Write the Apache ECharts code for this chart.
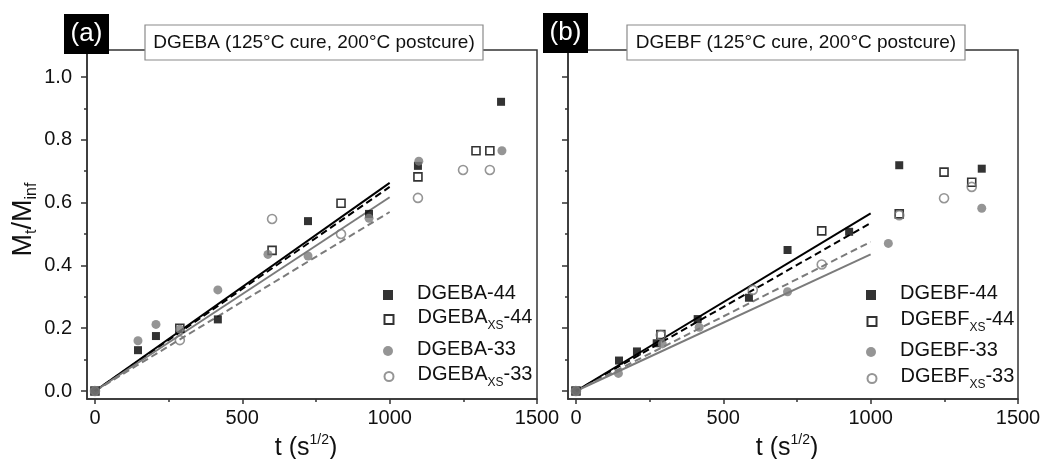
<!DOCTYPE html>
<html><head><meta charset="utf-8">
<script src="https://cdn.jsdelivr.net/npm/echarts@6/dist/echarts.min.js"></script>
<style>html,body{margin:0;padding:0;background:#fff}#c{width:1041px;height:459px}</style>
</head><body><div id="c"></div>
<script>
// ---- tick values ----
const xTicksMajor = [0, 500, 1000, 1500];
const xTicksMinor = [250, 750, 1250];
const yTicksMajor = [0, 0.2, 0.4, 0.6, 0.8, 1.0];
const yTicksMinor = [0.1, 0.3, 0.5, 0.7, 0.9];

// ---- panel (a): DGEBA ----
const titleA = 'DGEBA (125°C cure, 200°C postcure)';
const namesA = ['DGEBA-44', 'DGEBA_XS-44', 'DGEBA-33', 'DGEBA_XS-33'];
const a44   = [[0,0],[146,0.13],[207,0.175],[417,0.228],[723,0.541],[930,0.564],[1096,0.717],[1378,0.921]];
const aXS44 = [[0,0],[288,0.2],[601,0.448],[835,0.598],[1096,0.682],[1293,0.765],[1340,0.765]];
const a33   = [[0,0],[146,0.16],[207,0.212],[288,0.197],[417,0.322],[587,0.435],[723,0.43],[930,0.55],[1099,0.732],[1381,0.765]];
const aXS33 = [[0,0],[288,0.162],[601,0.548],[835,0.5],[1096,0.615],[1249,0.704],[1340,0.704]];
const fitA44   = [[0,0],[1000,0.663]];
const fitAXS44 = [[0,0],[1000,0.65]];
const fitA33   = [[0,0],[1000,0.617]];
const fitAXS33 = [[0,0],[1000,0.57]];

// ---- panel (b): DGEBF ----
const titleB = 'DGEBF (125°C cure, 200°C postcure)';
const namesB = ['DGEBF-44', 'DGEBF_XS-44', 'DGEBF-33', 'DGEBF_XS-33'];
const b44   = [[0,0],[146,0.097],[207,0.126],[274,0.152],[413,0.229],[587,0.297],[718,0.449],[927,0.507],[1097,0.719],[1377,0.708]];
const bXS44 = [[0,0],[288,0.18],[834,0.51],[1097,0.564],[1249,0.697],[1343,0.665]];
const b33   = [[0,0],[144,0.056],[293,0.15],[418,0.203],[718,0.316],[1060,0.47],[1377,0.582]];
const bXS33 = [[0,0],[288,0.178],[600,0.322],[834,0.403],[1097,0.56],[1249,0.614],[1343,0.65]];
const fitB44   = [[0,0],[1000,0.566]];
const fitBXS44 = [[0,0],[1000,0.535]];
const fitB33   = [[0,0],[1000,0.435]];
const fitBXS33 = [[0,0],[1000,0.475]];

const FONT = 'Liberation Sans, Arial, sans-serif';
const AX = '#333';
const GRAY = '#7b7b7b';
const XMIN = -27, XMAX = 1500, YMIN = -0.0255, YMAX = 1.086;

const chart = echarts.init(document.getElementById('c'), null, {renderer: 'canvas'});

function xAxes(grid) {
  return [{
    gridIndex: grid, type: 'value', min: XMIN, max: XMAX, position: 'bottom',
    axisLine: {show: true, onZero: false, lineStyle: {color: AX, width: 1.5}},
    axisTick: {show: true, inside: false, length: 5, customValues: xTicksMajor, lineStyle: {color: AX, width: 1.5}},
    axisLabel: {show: true, customValues: xTicksMajor, fontSize: 20, color: '#111', margin: 9, fontFamily: FONT,
      formatter: v => String(Math.round(v))},
    splitLine: {show: false},
    name: '{t|t (s}{p|1/2}{t|)}', nameLocation: 'middle', nameGap: 31,
    nameTextStyle: {fontFamily: FONT, color: '#111', padding: [0, 12, 0, 0], rich: {
      t: {fontSize: 25, lineHeight: 28, verticalAlign: 'bottom', fontFamily: FONT, color: '#111'},
      p: {fontSize: 14, lineHeight: 14, padding: [0, 0, 17, 0], verticalAlign: 'top', fontFamily: FONT, color: '#111'}
    }}
  }, {
    gridIndex: grid, type: 'value', min: XMIN, max: XMAX, position: 'bottom',
    axisLine: {show: false, onZero: false}, axisLabel: {show: false}, splitLine: {show: false},
    axisTick: {show: true, inside: false, length: 3, customValues: xTicksMinor, lineStyle: {color: AX, width: 1.5}}
  }];
}
function yAxes(grid, showLabels) {
  const main = {
    gridIndex: grid, type: 'value', min: YMIN, max: YMAX, position: 'left',
    axisLine: {show: true, onZero: false, lineStyle: {color: AX, width: 1.5}},
    axisTick: {show: true, inside: false, length: 6, customValues: yTicksMajor, lineStyle: {color: AX, width: 1.5}},
    axisLabel: {show: showLabels, customValues: yTicksMajor, fontSize: 20, color: '#111', margin: 15, fontFamily: FONT,
      formatter: v => Number(v).toFixed(1)},
    splitLine: {show: false}
  };
  if (showLabels) {
    main.name = '{m|M}{s|t}{m|/M}{s|inf}';
    main.nameLocation = 'middle';
    main.nameGap = 47;
    main.nameRotate = 90;
    main.nameTextStyle = {fontFamily: FONT, color: '#111', padding: [0, 0, 0, 10], rich: {
      m: {fontSize: 27, lineHeight: 30, verticalAlign: 'top', fontFamily: FONT, color: '#111'},
      s: {fontSize: 16, lineHeight: 16, padding: [18, 0, 0, 0], verticalAlign: 'bottom', fontFamily: FONT, color: '#111'}
    }};
  }
  return [main, {
    gridIndex: grid, type: 'value', min: YMIN, max: YMAX, position: 'left',
    axisLine: {show: false, onZero: false}, axisLabel: {show: false}, splitLine: {show: false},
    axisTick: {show: true, inside: false, length: 3, customValues: yTicksMinor, lineStyle: {color: AX, width: 1.5}}
  }];
}

const styles = [
  {symbol: 'rect', size: 8, item: {color: '#000'}, line: {color: '#000', type: 'solid'}, icon: 'rect'},
  {symbol: 'rect', size: 8, item: {color: 'rgba(255,255,255,0)', borderColor: '#000', borderWidth: 1.6}, line: {color: '#000', type: [7, 4]}, icon: 'rect'},
  {symbol: 'circle', size: 9, item: {color: GRAY}, line: {color: GRAY, type: 'solid'}, icon: 'circle'},
  {symbol: 'circle', size: 9, item: {color: 'rgba(255,255,255,0)', borderColor: GRAY, borderWidth: 1.6}, line: {color: GRAY, type: [7, 4]}, icon: 'circle'}
];

function buildSeries(names, datas, fits, xi, yi) {
  const out = [];
  fits.forEach((f, i) => out.push({
    type: 'line', name: names[i] + ' fit', xAxisIndex: xi, yAxisIndex: yi, data: f,
    symbol: 'none', showSymbol: false, silent: true, z: 2,
    lineStyle: {color: styles[i].line.color, width: 2, type: styles[i].line.type}
  }));
  datas.forEach((d, i) => out.push({
    type: 'scatter', name: names[i], xAxisIndex: xi, yAxisIndex: yi, data: d,
    symbol: styles[i].symbol, symbolSize: styles[i].size, z: 3,
    itemStyle: styles[i].item
  }));
  return out;
}

const legendRich = {
  sp: {width: 19, fontSize: 20},
  n: {fontSize: 20, lineHeight: 24, verticalAlign: 'top', fontFamily: FONT, color: '#111'},
  s: {fontSize: 12, lineHeight: 12, padding: [15, 0, 0, 0], verticalAlign: 'bottom', fontFamily: FONT, color: '#111'}
};
function legendFmt(name) {
  if (name.indexOf('_XS') >= 0) {
    const parts = name.split('_XS');
    return '{sp| }{n|' + parts[0] + '}{s|XS}{n|' + parts[1] + '}';
  }
  return '{sp| }{n|' + name + '}';
}
function legends(names, iconCenterX, rowCenters) {
  return names.map((nm, i) => {
    const h = nm.indexOf('_XS') >= 0 ? 27 : 24;
    const open = i % 2 === 1;
    return {
      data: [{name: nm, icon: styles[i].icon}],
      left: iconCenterX - (open ? 4.5 : 5), top: rowCenters[i] - h / 2, padding: 0,
      itemWidth: open ? 9 : 10, itemHeight: open ? 9 : 10, selectedMode: false,
      formatter: legendFmt,
      textStyle: {fontSize: 20, fontFamily: FONT, color: '#111', rich: legendRich}
    };
  });
}

function panelGraphics(boxX, boxY, label, titleX, titleW, title) {
  return [
    {type: 'rect', z: 100, shape: {x: boxX, y: boxY, width: 45, height: 40}, style: {fill: '#000'}},
    {type: 'text', z: 101, x: boxX + 22.5, y: boxY + 20,
      style: {text: label, fill: '#fff', font: '26px ' + FONT, align: 'center', verticalAlign: 'middle'}},
    {type: 'rect', z: 100, shape: {x: titleX, y: 25, width: titleW, height: 35}, style: {fill: '#fff', stroke: '#8a8a8a', lineWidth: 1.2}},
    {type: 'text', z: 101, x: titleX + titleW / 2, y: 43,
      style: {text: title, fill: '#111', font: '19px ' + FONT, align: 'center', verticalAlign: 'middle'}}
  ];
}

const option = {
  animation: false,
  backgroundColor: '#fff',
  textStyle: {fontFamily: FONT},
  grid: [
    {left: 87, top: 50, width: 450, height: 349, show: true, borderColor: AX, borderWidth: 1.5,
      backgroundColor: 'transparent', containLabel: false, outerBoundsMode: 'none'},
    {left: 568, top: 50, width: 450, height: 349, show: true, borderColor: AX, borderWidth: 1.5,
      backgroundColor: 'transparent', containLabel: false, outerBoundsMode: 'none'}
  ],
  xAxis: [...xAxes(0), ...xAxes(1)],
  yAxis: [...yAxes(0, true), ...yAxes(1, false)],
  legend: [
    ...legends(namesA, 388, [295, 318, 351, 375]),
    ...legends(namesB, 871, [295, 320, 352, 377])
  ],
  series: [
    ...buildSeries(namesA, [a44, aXS44, a33, aXS33], [fitA44, fitAXS44, fitA33, fitAXS33], 0, 0),
    ...buildSeries(namesB, [b44, bXS44, b33, bXS33], [fitB44, fitBXS44, fitB33, fitBXS33], 2, 2)
  ],
  graphic: [
    ...panelGraphics(64, 14, '(a)', 145, 338, titleA),
    ...panelGraphics(543, 13, '(b)', 627, 338, titleB)
  ]
};
chart.setOption(option);
</script>
</body></html>
